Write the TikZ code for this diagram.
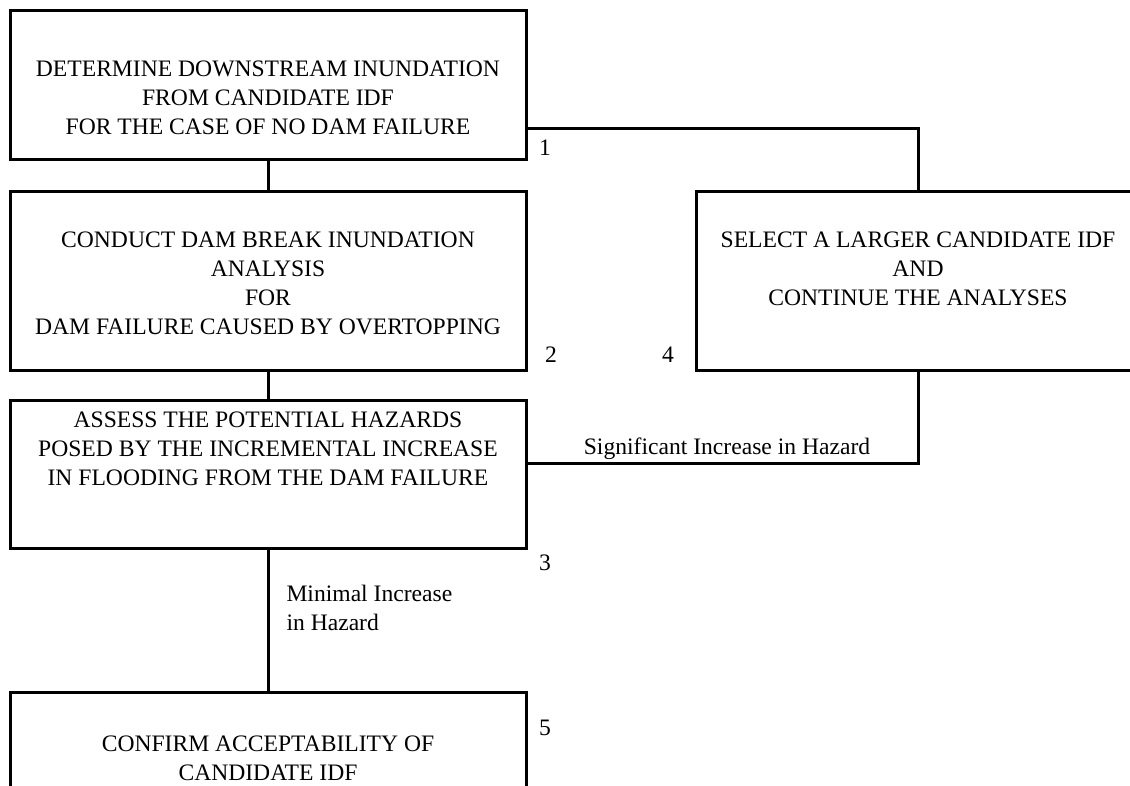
\documentclass[tikz,border=0pt]{standalone}
\usepackage{fontspec}
\setmainfont{LiberationSerif}[Extension=.ttf, UprightFont=*-Regular, Ligatures=TeX]
\usetikzlibrary{positioning}

\begin{document}
\begin{tikzpicture}[x=0.5pt, y=-0.5pt, line width=1.5pt,
        box/.style = {draw=black, rectangle, minimum width=258pt, inner sep=0pt},
        txt/.style = {align=center, font=\fontsize{11.8}{14.5}\selectfont, inner sep=0pt},
        note/.style = {align=left, font=\fontsize{11.8}{14.5}\selectfont, inner sep=0pt}]
    \clip (0,0) rectangle (1130,786);
    \useasboundingbox (0,0) rectangle (1130,786);
    \node[box, minimum height=74.5pt] (b1) at (268,85.5) {};
    \node[box, minimum height=89pt] (b2) at (268,281) {};
    \node[box, minimum height=74pt] (b3) at (268,474) {};
    \node[box, minimum height=74pt] (b5) at (268,766) {};
    \node[box, minimum width=221.5pt, minimum height=89pt] (b4) at (918,281) {};
    \node[txt] (t1) at (268,98) {DETERMINE DOWNSTREAM INUNDATION\\FROM CANDIDATE IDF\\FOR THE CASE OF NO DAM FAILURE};
    \node[txt] (t2) at (268,283) {CONDUCT DAM BREAK INUNDATION\\ANALYSIS\\FOR\\DAM FAILURE CAUSED BY OVERTOPPING};
    \node[txt] (t3) at (268,449) {ASSESS THE POTENTIAL HAZARDS\\POSED BY THE INCREMENTAL INCREASE\\IN FLOODING FROM THE DAM FAILURE};
    \node[txt] (t4) at (918,269) {SELECT A LARGER CANDIDATE IDF\\AND\\CONTINUE THE ANALYSES};
    \node[txt] (t5) at (268,758) {CONFIRM ACCEPTABILITY OF\\CANDIDATE IDF};
    \node[txt] (n1) at (545,148) {1};
    \node[txt] (n2) at (551,355) {2};
    \node[txt] (n3) at (545,563) {3};
    \node[txt] (n4) at (668,355) {4};
    \node[txt] (n5) at (545,728) {5};
    \node[txt] (sig) at (727,449) {Significant Increase in Hazard};
    \node[note, anchor=west] (min) at (285,608) {Minimal Increase\\in Hazard};
    \draw (b1) -- (b2);
    \draw (b2) -- (b3);
    \draw (b3) -- (b5);
    \draw (b1.east |- 0,129) -| (b4.north);
    \draw (b3.east |- 0,463) -| (b4.south);
\end{tikzpicture}
\end{document}
